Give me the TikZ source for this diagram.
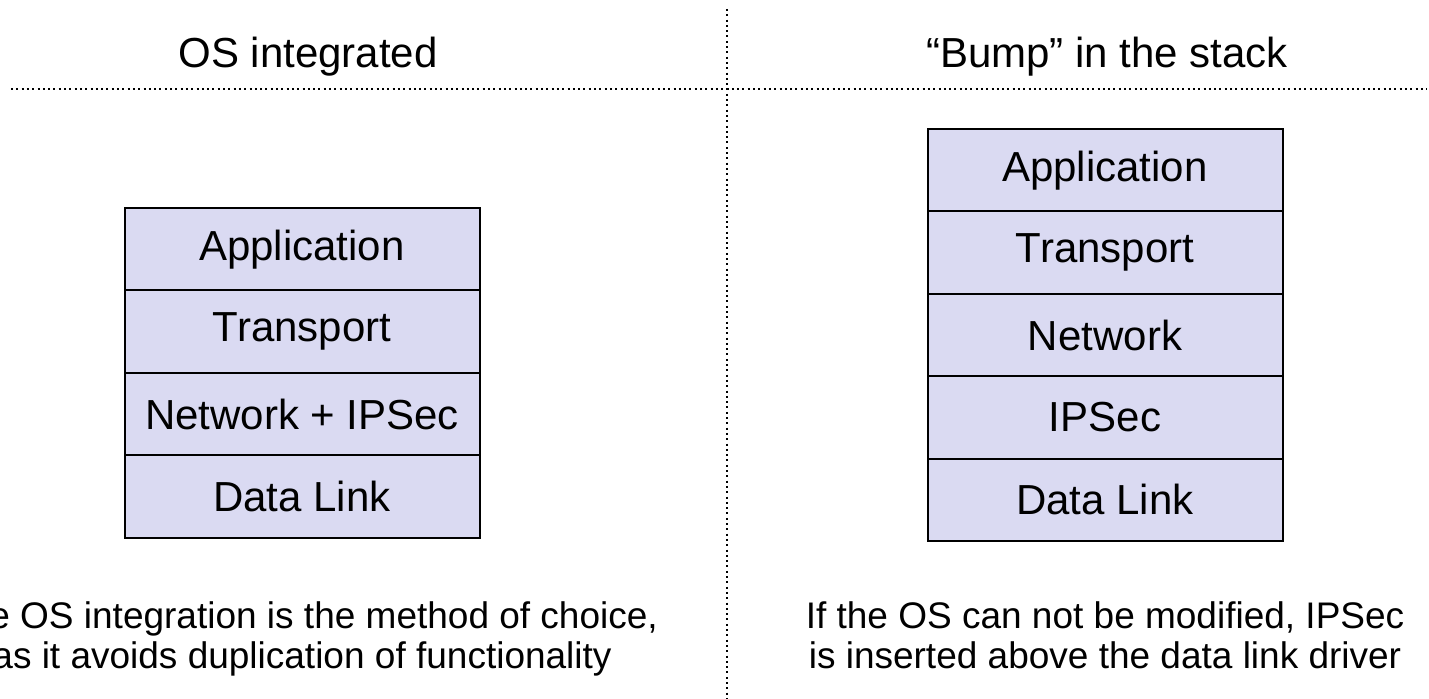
\documentclass[tikz,border=0pt]{standalone}
\usepackage{fontspec}
\setmainfont{Liberation Sans}
\usepackage{tikz}
\definecolor{layerfill}{RGB}{218,218,242}

\begin{document}
\begin{tikzpicture}[x=0.5pt,y=-0.5pt]
        %
        % `layer' is used for the protocol boxes of both stacks.
        % `title' and `remark' are used for the texts above and below.
        % `divider' is used for the dotted separating lines.
        \tikzstyle{layer} = [draw,line width=1pt,fill=layerfill,minimum width=177.5pt,minimum height=41.2pt,inner sep=0pt,font=\fontsize{21}{25}\selectfont]
        \tikzstyle{title} = [anchor=base,inner sep=0pt,font=\fontsize{21}{25}\selectfont]
        \tikzstyle{remark} = [anchor=base,align=center,inner sep=0pt,font=\fontsize{18.5}{20}\selectfont]
        \tikzstyle{divider} = [line width=1pt,dash pattern=on 1pt off 1.65pt]
        %
        \useasboundingbox (0,0) rectangle (1429,699);
        %
        % Dividers
        \draw[divider] (11,89) -- (1427,89);
        \draw[divider] (727,9) -- (727,699);
        %
        % Titles
        \node[title] (titleos) at (308,68) {OS integrated};
        \node[title] (titlebump) at (1107,68) {``Bump'' in the stack};
        %
        % Stack 1
        \node[layer] (app1) at (302,249.2) {Application};
        \node[layer] (trans1) at (302,331.6) {Transport};
        \node[layer] (net1) at (302,414.0) {Network + IPSec};
        \node[layer] (link1) at (302,496.4) {Data Link};
        %
        % Stack 2
        \node[layer] (app2) at (1105,170.2) {Application};
        \node[layer] (trans2) at (1105,252.6) {Transport};
        \node[layer] (net2) at (1105,335.0) {Network};
        \node[layer] (ipsec2) at (1105,417.4) {IPSec};
        \node[layer] (link2) at (1105,499.8) {Data Link};
        %
        % Remarks (anchor is the baseline of the last line)
        \node[remark] (remarkos) at (302,668) {The OS integration is the method of choice,\\as it avoids duplication of functionality};
        \node[remark] (remarkbump) at (1105,668) {If the OS can not be modified, IPSec\\is inserted above the data link driver};
        %
\end{tikzpicture}
\end{document}
